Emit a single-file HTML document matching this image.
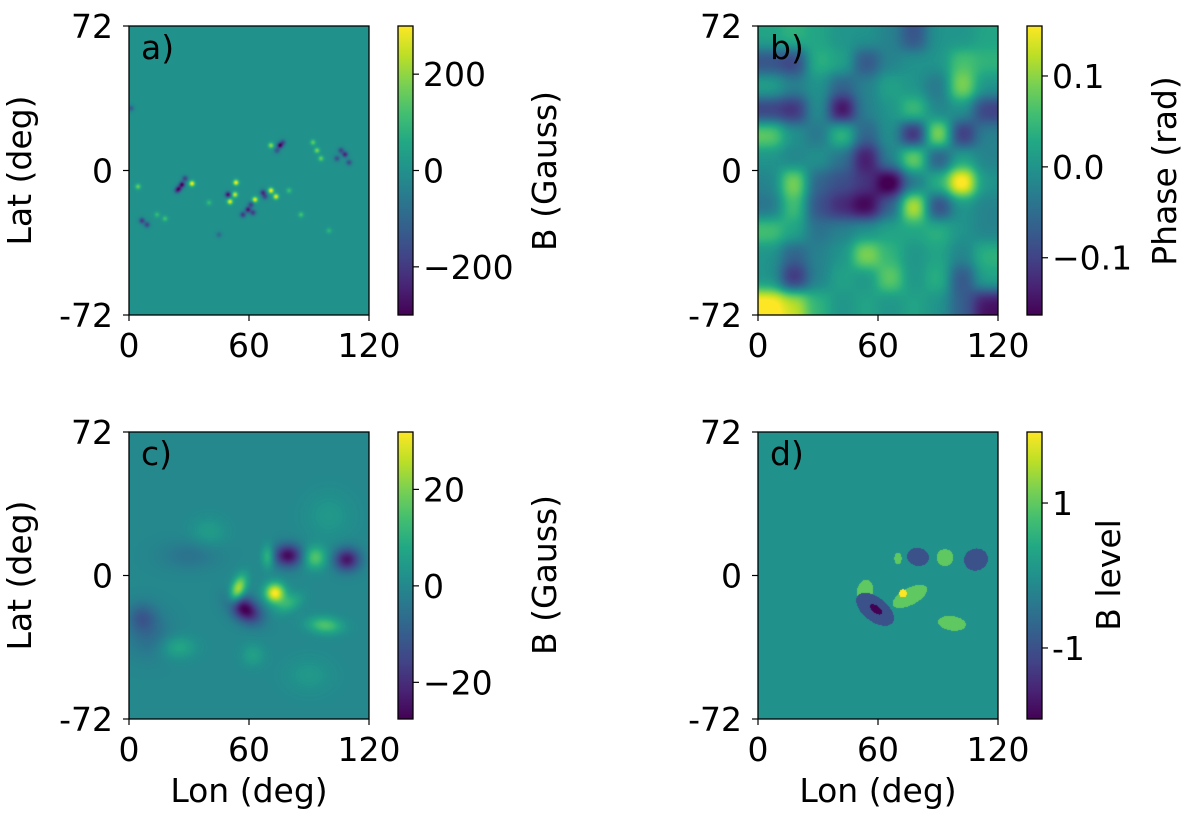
<!DOCTYPE html>
<html><head><meta charset="utf-8">
<style>
html,body{margin:0;padding:0;background:#fff;}
#wrap{position:relative;width:1200px;height:825px;overflow:hidden;font-family:"DejaVu Sans","Liberation Sans",sans-serif;}
canvas{position:absolute;}
svg{position:absolute;left:0;top:0;}
text{font-family:"DejaVu Sans","Liberation Sans",sans-serif;font-size:33px;fill:#000;}
</style></head>
<body>
<div id="wrap">
<canvas id="ca" width="240" height="289" style="left:129px;top:26px"></canvas>
<canvas id="cb" width="240" height="289" style="left:758px;top:26px"></canvas>
<canvas id="cc" width="240" height="287" style="left:129px;top:432px"></canvas>
<canvas id="cd" width="240" height="287" style="left:758px;top:432px"></canvas>
<svg id="ov" width="1200" height="825"></svg>
</div>
<script>
// ---- Panel a: magnetogram speckles (lon, lat, B Gauss)
const aLon = [31.5,26.5,53.5,49.5,50.5,53,63,59.5,71,73.5,67,75.5,71,108,94,6.5,4.5,1,28,24,57,61,68,77,104,110,96,92,18,40,86,100,14,45,80,25,9,62,74,106];
const aLat = [-6.5,-7,-6,-12,-15.5,-12,-14.5,-19.5,-10,-13,-11,12.5,12.5,8,10,-25,-8,31,-4,-10,-22,-17,-13,14,6,4,6,14,-24,-16,-22,-30,-22,-32,-10,-9,-27,-21,10,10];
const aVal = [300,-300,300,-280,280,260,280,-260,300,280,-220,-300,200,-240,180,-200,160,-120,-180,-160,-200,-180,-160,-150,-150,-160,160,150,120,100,120,90,100,-90,110,-220,-170,-190,-140,-170];
const aRange = [-300,300];
// ---- Panel b: phase grid (rad), 12 rows x 10 cols, top to bottom
const bGrid = [
 [0.016,0.031,0.016,0,0,-0.016,-0.062,0,0,0.016],
 [-0.062,-0.078,0.031,0.016,-0.062,-0.016,0,0,0.047,0.031],
 [0.016,-0.016,0,-0.047,-0.016,0.016,0,-0.031,0.078,0],
 [-0.078,-0.093,0,-0.124,-0.016,0,0.047,-0.016,0,-0.078],
 [0.062,0,-0.031,0.047,-0.047,0,-0.109,0.093,-0.093,-0.016],
 [0,-0.016,0,-0.031,-0.109,-0.016,0.078,-0.062,0.016,-0.016],
 [-0.016,0.078,-0.047,-0.062,-0.078,-0.14,-0.031,0.031,0.14,0],
 [-0.031,0.047,-0.062,-0.093,-0.124,-0.047,0.109,-0.078,0,-0.016],
 [0.047,0.016,-0.031,-0.016,0,0.016,0.016,0.031,0,-0.016],
 [0,-0.047,-0.016,0,0.078,0.031,0,0.016,-0.016,0.031],
 [0,-0.093,-0.016,0.016,0,0.062,0,0.031,-0.062,0.016],
 [0.124,0.093,0.031,0,0.016,0,0.016,0,-0.047,-0.109]
];
const bRange = [-0.163,0.155];
// ---- Panel c: smoothed field blobs
const cLon = [73,54.5,58,79.5,93,109,69.5,98,24.5,6.5,80,40,10,100,62,30,90];
const cLat = [-8.8,-7,-17,10,9,8,9.5,-25,-36,-21,-14,22,-30,30,-40,10,-50];
const cVal = [32,26,-28,-26,16,-24,13,15,8,-9,10,5,-6,4,6,-5,4];
const cSx = [3.5,2.5,6,5,4,4.5,2.2,6,6,5,5,6,8,8,4,10,8];
const cSy = [3.5,5,4,4,4,4,4,3,4,5,3,5,8,8,4,5,6];
const cRot = [0,-20,-35,0,0,0,0,-5,0,0,30,0,0,0,0,0,0];
const cRange = [-27.6,31.9];
// ---- Panel d: B level regions
const dLon = [80,93.5,109,70,53.5,58.5,59,76,72.5,97];
const dLat = [9.3,9,8,8.5,-8,-17,-17,-10.5,-9,-24];
const dLevel = [-1,1,-1,1,1,-1,-2,1,2,1];
const dRx = [5.5,4.2,6,1.8,4,11,3.5,9.5,2,7];
const dRy = [4.5,4.2,5.5,3,6,6,1.8,4.2,2,3.6];
const dRot = [-10,0,20,0,-10,-38,-38,28,0,-8];
const dRange = [-1.98,1.98];
// ---- tick labels
const xTicks = [0,60,120];
const yTicks = [72,0,-72];
const yTickLabels = ["72","0","-72"];
const aCbTicks = [200,0,-200], aCbLabels=["200","0","\u2212200"];
const bCbTicks = [0.1,0,-0.1], bCbLabels=["0.1","0.0","\u22120.1"];
const cCbTicks = [20,0,-20], cCbLabels=["20","0","\u221220"];
const dCbTicks = [1,-1], dCbLabels=["1","-1"];

const VIR=[[0,68,1,84],[0.1,72,36,117],[0.2,65,68,135],[0.3,53,95,141],[0.4,42,120,142],[0.5,33,145,140],[0.6,34,168,132],[0.7,68,191,112],[0.8,122,209,81],[0.9,189,223,38],[1,253,231,37]];
function cmap(t){t=Math.max(0,Math.min(1,t));for(let i=1;i<VIR.length;i++){if(t<=VIR[i][0]){const a=VIR[i-1],b=VIR[i],f=(t-a[0])/(b[0]-a[0]);return [a[1]+f*(b[1]-a[1]),a[2]+f*(b[2]-a[2]),a[3]+f*(b[3]-a[3])];}}return [253,231,37];}
function hex(c){return 'rgb('+c.map(Math.round).join(',')+')';}

function paint(id,fn,range){
 const cv=document.getElementById(id),ctx=cv.getContext('2d'),W=cv.width,H=cv.height;
 const img=ctx.createImageData(W,H);
 for(let j=0;j<H;j++)for(let i=0;i<W;i++){
  const lon=(i+0.5)/W*120, lat=72-(j+0.5)/H*144;
  const v=fn(lon,lat);const c=cmap((v-range[0])/(range[1]-range[0]));
  const k=(j*W+i)*4;img.data[k]=c[0];img.data[k+1]=c[1];img.data[k+2]=c[2];img.data[k+3]=255;}
 ctx.putImageData(img,0,0);
}
function gauss(lon,lat,L,A,V,SX,SY,R){let s=0;for(let n=0;n<L.length;n++){const r=(R?R[n]:0)*Math.PI/180;const dx=lon-L[n],dy=lat-A[n];const u=dx*Math.cos(r)+dy*Math.sin(r),w=-dx*Math.sin(r)+dy*Math.cos(r);s+=V[n]*Math.exp(-(u*u)/(2*SX[n]*SX[n])-(w*w)/(2*SY[n]*SY[n]));}return s;}
const aS=aLon.map(()=>1.0);
paint('ca',(lo,la)=>gauss(lo,la,aLon,aLat,aVal,aS,aS,null),aRange);
paint('cb',(lo,la)=>{const R=bGrid.length,C=bGrid[0].length;const x=lo/120*C-0.5,y=(72-la)/144*R-0.5;
 let s=0,ws=0;const sg=0.42;
 for(let r=0;r<R;r++)for(let c=0;c<C;c++){const dx=x-c,dy=y-r;const w=Math.exp(-(dx*dx+dy*dy)/(2*sg*sg));s+=w*bGrid[r][c];ws+=w;}
 return s/ws*1.4;},bRange);
paint('cc',(lo,la)=>gauss(lo,la,cLon,cLat,cVal,cSx,cSy,cRot),cRange);
paint('cd',(lo,la)=>{let v=0;for(let n=0;n<dLon.length;n++){const r=dRot[n]*Math.PI/180,dx=lo-dLon[n],dy=la-dLat[n];const u=dx*Math.cos(r)+dy*Math.sin(r),w=-dx*Math.sin(r)+dy*Math.cos(r);if((u*u)/(dRx[n]*dRx[n])+(w*w)/(dRy[n]*dRy[n])<=1)v=dLevel[n];}return v;},dRange);

const NS='http://www.w3.org/2000/svg',ov=document.getElementById('ov');
function el(t,a,p){const e=document.createElementNS(NS,t);for(const k in a)e.setAttribute(k,a[k]);(p||ov).appendChild(e);return e;}
let gid=0;
function panel(name,x0,y0,w,h,letter,cbx,cbTicks,cbLabels,cbRange,showY,showX){
 const g=el('g',{});
 
 
 const f=el('rect',{x:x0,y:y0,width:w,height:h,fill:'none',stroke:'#000','stroke-width':1.3},g);
 
 
 const xs=v=>x0+v/120*w, ys=v=>y0+(72-v)/144*h;
 xTicks.forEach(v=>{el('line',{x1:xs(v),x2:xs(v),y1:y0+h,y2:y0+h+6,stroke:'#000','stroke-width':1.2},g);
  const t=el('text',{x:xs(v),y:y0+h+42,'text-anchor':'middle'},g);t.textContent=String(v);
  
  });
 yTicks.forEach((v,i)=>{el('line',{x1:x0-6,x2:x0,y1:ys(v),y2:ys(v),stroke:'#000','stroke-width':1.2},g);
  const t=el('text',{x:x0-16,y:ys(v)+12,'text-anchor':'end'},g);t.textContent=yTickLabels[i];
  
  });
 const L=el('text',{x:x0+12,y:y0+33},g);L.textContent=letter;
 
 
 if(showY){const t=el('text',{transform:'translate('+(x0-98)+','+(y0+h/2)+') rotate(-90)','text-anchor':'middle'},g);t.textContent='Lat (deg)';
  
  }
 if(showX){const t=el('text',{x:x0+w/2,y:y0+h+83,'text-anchor':'middle'},g);t.textContent='Lon (deg)';
  
  }
 const id='grad'+(gid++);const defs=el('defs',{},g);const lg=el('linearGradient',{id:id,x1:0,y1:1,x2:0,y2:0},defs);
 VIR.forEach(s=>el('stop',{offset:s[0],'stop-color':hex([s[1],s[2],s[3]])},lg));
 const cb=el('rect',{x:cbx,y:y0,width:15,height:h,fill:'url(#'+id+')',stroke:'#000','stroke-width':1.3},g);
 
 
 const cy=v=>y0+h-(v-cbRange[0])/(cbRange[1]-cbRange[0])*h;
 cbTicks.forEach((v,i)=>{el('line',{x1:cbx+15,x2:cbx+21,y1:cy(v),y2:cy(v),stroke:'#000','stroke-width':1.2},g);
  const t=el('text',{x:cbx+25,y:cy(v)+12},g);t.textContent=cbLabels[i];
  
  });
}
panel('panel-a',129,26,240,289,'a)',398,aCbTicks,aCbLabels,aRange,true,false);
panel('panel-b',758,26,240,289,'b)',1027,bCbTicks,bCbLabels,bRange,false,false);
panel('panel-c',129,432,240,287,'c)',398,cCbTicks,cCbLabels,cRange,true,true);
panel('panel-d',758,432,240,287,'d)',1027,dCbTicks,dCbLabels,dRange,false,true);
function cbTitle(txt,x,y){const t=el('text',{transform:'translate('+x+','+y+') rotate(-90)','text-anchor':'middle'});t.textContent=txt;
 
 }
cbTitle('B (Gauss)',556,171);
cbTitle('Phase (rad)',1176,171);
cbTitle('B level',1120,575);
cbTitle('B (Gauss)',556,575);
</script>
</body></html>
